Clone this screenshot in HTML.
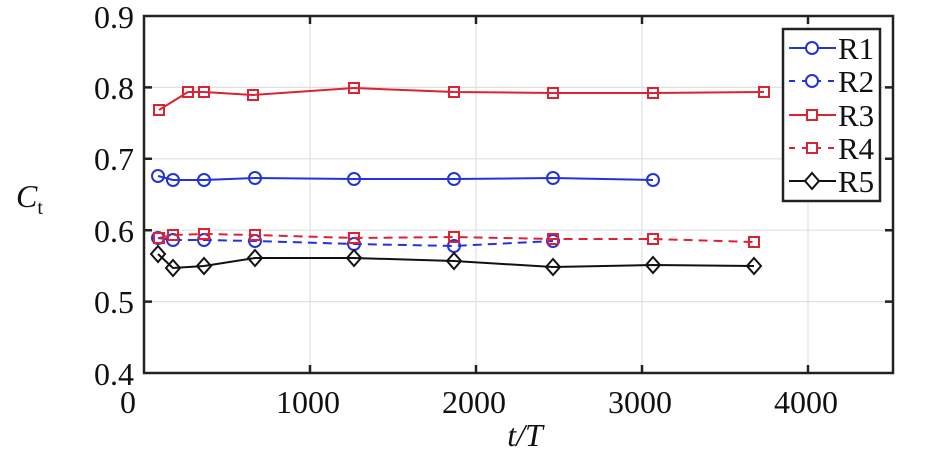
<!DOCTYPE html><html><head><style>body{margin:0;background:#fff}svg{display:block}</style></head><body>
<svg width="946" height="455" xmlns="http://www.w3.org/2000/svg" font-family="Liberation Serif, serif">
<rect width="946" height="455" fill="#fff"/>
<g stroke="#dde2e2" stroke-width="1.2">
<line x1="310" y1="16" x2="310" y2="373"/><line x1="476" y1="16" x2="476" y2="373"/><line x1="642" y1="16" x2="642" y2="373"/><line x1="808" y1="16" x2="808" y2="373"/>
<line x1="144" y1="87.4" x2="893" y2="87.4"/><line x1="144" y1="158.8" x2="893" y2="158.8"/><line x1="144" y1="230.2" x2="893" y2="230.2"/><line x1="144" y1="301.6" x2="893" y2="301.6"/>
</g>
<g stroke="#222" stroke-width="2.5">
<rect x="144" y="16" width="749" height="357" fill="none"/>
<path d="M310 373v-8M476 373v-8M642 373v-8M808 373v-8M310 16v8M476 16v8M642 16v8M808 16v8M144 87.4h8M144 158.8h8M144 230.2h8M144 301.6h8M893 87.4h-8M893 158.8h-8M893 230.2h-8M893 301.6h-8"/>
</g>
<g font-size="32" fill="#111" text-anchor="end">
<text x="134" y="28">0.9</text><text x="134" y="99">0.8</text><text x="134" y="170">0.7</text><text x="134" y="242">0.6</text><text x="134" y="313">0.5</text><text x="134" y="385">0.4</text>
</g>
<g font-size="32" fill="#111" text-anchor="middle">
<text x="128" y="413">0</text><text x="308" y="413">1000</text><text x="474" y="413">2000</text><text x="640" y="413">3000</text><text x="806" y="413">4000</text>
<text x="525" y="446" font-style="italic">t/T</text>
</g>
<text x="16" y="207" font-size="32" font-style="italic" fill="#111">C<tspan font-size="20" font-style="normal" dy="7">t</tspan></text>
<g stroke="#2233dd" stroke-width="2" fill="none">
<polyline points="158,176 173,180 204,180 255,178 354,179 454,179 553,178 653,180"/>
<g><circle cx="158" cy="176" r="6"/><circle cx="173" cy="180" r="6"/><circle cx="204" cy="180" r="6"/><circle cx="255" cy="178" r="6"/><circle cx="354" cy="179" r="6"/><circle cx="454" cy="179" r="6"/><circle cx="553" cy="178" r="6"/><circle cx="653" cy="180" r="6"/></g>
<polyline stroke-dasharray="9,6" points="158,238 173,240 204,240 255,241 354,244 454,246 553,241"/>
<g><circle cx="158" cy="238" r="6"/><circle cx="173" cy="240" r="6"/><circle cx="204" cy="240" r="6"/><circle cx="255" cy="241" r="6"/><circle cx="354" cy="244" r="6"/><circle cx="454" cy="246" r="6"/><circle cx="553" cy="241" r="6"/></g>
</g>
<g stroke="#dd2233" stroke-width="2" fill="none">
<polyline points="159,110 188,92 204,92 253,95 354,88 454,92 553,93 653,93 764,92"/>
<g><rect x="154" y="105" width="10" height="10"/><rect x="183" y="87" width="10" height="10"/><rect x="199" y="87" width="10" height="10"/><rect x="248" y="90" width="10" height="10"/><rect x="349" y="83" width="10" height="10"/><rect x="449" y="87" width="10" height="10"/><rect x="548" y="88" width="10" height="10"/><rect x="648" y="88" width="10" height="10"/><rect x="759" y="87" width="10" height="10"/></g>
<polyline stroke-dasharray="9,6" points="159,238 173,235 204,234 255,235 354,238 454,237 553,239 653,239 754,242"/>
<g><rect x="154" y="233" width="10" height="10"/><rect x="168" y="230" width="10" height="10"/><rect x="199" y="229" width="10" height="10"/><rect x="250" y="230" width="10" height="10"/><rect x="349" y="233" width="10" height="10"/><rect x="449" y="232" width="10" height="10"/><rect x="548" y="234" width="10" height="10"/><rect x="648" y="234" width="10" height="10"/><rect x="749" y="237" width="10" height="10"/></g>
</g>
<g stroke="#111" stroke-width="2" fill="none">
<polyline points="158,254 173,268 204,266 255,258 354,258 454,261 553,267 653,265 754,266"/>
<g><path d="M158 246l7 8-7 8-7-8z"/><path d="M173 260l7 8-7 8-7-8z"/><path d="M204 258l7 8-7 8-7-8z"/><path d="M255 250l7 8-7 8-7-8z"/><path d="M354 250l7 8-7 8-7-8z"/><path d="M454 253l7 8-7 8-7-8z"/><path d="M553 259l7 8-7 8-7-8z"/><path d="M653 257l7 8-7 8-7-8z"/><path d="M754 258l7 8-7 8-7-8z"/></g>
</g>
<rect x="783" y="29" width="97" height="172" fill="#fff" stroke="#222" stroke-width="2.5"/>
<g stroke-width="2" fill="none">
<line x1="789" y1="48" x2="836" y2="48" stroke="#2233dd"/><circle cx="812" cy="48" r="6" stroke="#2233dd" fill="#fff"/>
<line x1="789" y1="81" x2="836" y2="81" stroke="#2233dd" stroke-dasharray="6,7"/><circle cx="812" cy="81" r="6" stroke="#2233dd" fill="#fff"/>
<line x1="789" y1="115" x2="836" y2="115" stroke="#dd2233"/><rect x="807" y="110" width="10" height="10" stroke="#dd2233" fill="#fff"/>
<line x1="789" y1="148" x2="836" y2="148" stroke="#dd2233" stroke-dasharray="6,7"/><rect x="807" y="143" width="10" height="10" stroke="#dd2233" fill="#fff"/>
<line x1="789" y1="181" x2="836" y2="181" stroke="#111"/><path d="M812 173l7 8-7 8-7-8z" stroke="#111" fill="#fff"/>
</g>
<g font-size="31" fill="#111">
<text x="838" y="59">R1</text><text x="838" y="92">R2</text><text x="838" y="126">R3</text><text x="838" y="159">R4</text><text x="838" y="192">R5</text>
</g>
</svg>
</body></html>
